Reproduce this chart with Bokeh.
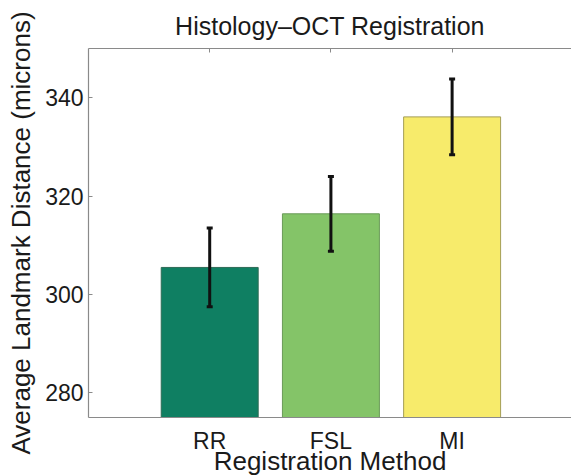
from bokeh.plotting import figure
from bokeh.models import ColumnDataSource, FixedTicker, LinearAxis, Whisker, Range1d, TeeHead
from bokeh.embed import file_html
from bokeh.resources import INLINE

methods = ["RR", "FSL", "MI"]
means = [305.5, 316.4, 336.1]
errors = [8.0, 7.6, 7.7]
colors = ["#0f7f62", "#84c468", "#f7eb6b"]
edge_colors = ["#2e6b55", "#6a9a58", "#a49e55"]
y_ticks = [280, 300, 320, 340]

xs = [i + 1 for i in range(len(methods))]
src = ColumnDataSource(dict(
    x=xs, top=means, color=colors, edge=edge_colors,
    upper=[m + e for m, e in zip(means, errors)],
    lower=[m - e for m, e in zip(means, errors)],
))

FONT = "Liberation Sans"
TXT = "#1a1a1a"
AX = "#8a8a8a"

p = figure(frame_width=483, frame_height=369, output_backend="svg", toolbar_location=None,
           x_range=Range1d(0, 3.985), y_range=Range1d(275, 350),
           title="Histology\u2013OCT Registration",
           min_border_left=88, min_border_right=0, min_border_top=47, min_border_bottom=0,
           x_axis_location=None, y_axis_location=None)

p.title.text_font = FONT
p.title.text_font_size = "25px"
p.title.text_font_style = "normal"
p.title.text_color = TXT
p.title.align = "center"
p.title.offset = 0
p.title.standoff = 18

p.grid.visible = False
p.outline_line_color = None

p.vbar(x="x", top="top", bottom=275, width=0.8, fill_color="color",
       line_color="edge", line_width=1, source=src)

p.add_layout(Whisker(source=src, base="x", upper="upper", lower="lower",
                     line_color="#111111", line_width=3, level="overlay",
                     upper_head=TeeHead(size=6, line_width=3, line_color="#111111"),
                     lower_head=TeeHead(size=6, line_width=3, line_color="#111111")))

# left axis
ly = LinearAxis(ticker=FixedTicker(ticks=y_ticks),
                axis_label="Average Landmark Distance (microns)")
ly.axis_line_color = AX
ly.axis_line_width = 1.2
ly.major_tick_line_color = AX
ly.major_tick_in = 4
ly.major_tick_out = 0
ly.minor_tick_line_color = None
ly.major_label_text_font = FONT
ly.major_label_text_font_size = "23px"
ly.major_label_text_color = TXT
ly.major_label_standoff = 5
ly.axis_label_text_font = FONT
ly.axis_label_text_font_size = "26px"
ly.axis_label_text_font_style = "normal"
ly.axis_label_text_color = TXT
ly.axis_label_standoff = 6
p.add_layout(ly, "left")

# bottom axis
bx = LinearAxis(ticker=FixedTicker(ticks=xs), axis_label="Registration Method")
bx.major_label_overrides = {x: m for x, m in zip(xs, methods)}
bx.axis_line_color = AX
bx.axis_line_width = 1.2
bx.major_tick_line_color = None
bx.minor_tick_line_color = None
bx.major_label_text_font = FONT
bx.major_label_text_font_size = "23px"
bx.major_label_text_color = TXT
bx.major_label_standoff = 4
bx.axis_label_text_font = FONT
bx.axis_label_text_font_size = "26px"
bx.axis_label_text_font_style = "normal"
bx.axis_label_text_color = TXT
bx.axis_label_standoff = -11
p.add_layout(bx, "below")

# top axis (inward ticks only)
tx = LinearAxis(ticker=FixedTicker(ticks=xs))
tx.major_label_overrides = {x: "" for x in xs}
tx.axis_line_color = AX
tx.axis_line_width = 1.2
tx.major_tick_line_color = AX
tx.major_tick_in = 4
tx.major_tick_out = 0
tx.minor_tick_line_color = None
tx.major_label_standoff = 0
p.add_layout(tx, "above")

open("out.html", "w").write(file_html(p, INLINE))
